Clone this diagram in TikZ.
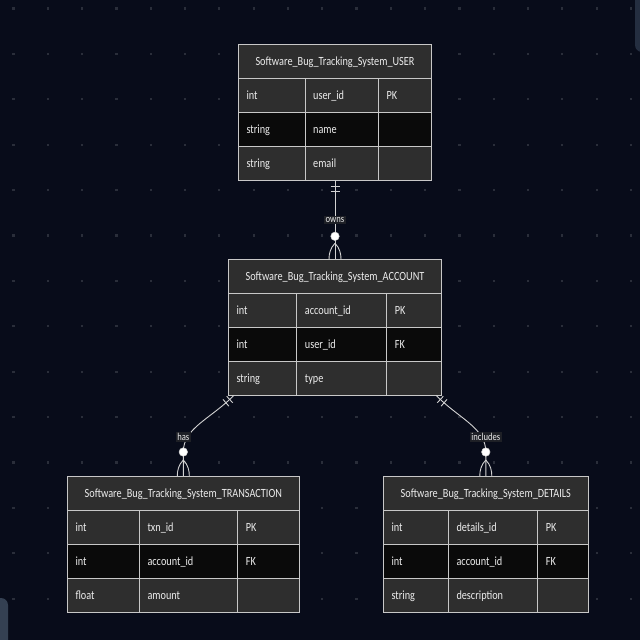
\documentclass[tikz,border=0pt]{standalone}
\usepackage{fontspec}
\setmainfont{Carlito}[FakeStretch=0.82]
\usetikzlibrary{calc,decorations.markings}
\definecolor{bgc}{RGB}{8,12,26}
\definecolor{dotc}{RGB}{42,46,58}
\definecolor{cellA}{RGB}{46,46,46}
\definecolor{cellB}{RGB}{10,10,10}
\definecolor{linec}{RGB}{200,200,200}
\definecolor{txtc}{RGB}{236,236,236}
\definecolor{lblbg}{RGB}{30,32,38}
\definecolor{relc}{RGB}{210,210,210}
\definecolor{artA}{RGB}{52,64,82}
\definecolor{artB}{RGB}{36,46,64}
\tikzset{
  tabline/.style={draw=linec, line width=1pt},
  celltxt/.style={text=txtc, font=\fontsize{12.5}{14}\selectfont, anchor=base west, inner sep=0pt},
  headtxt/.style={text=txtc, font=\fontsize{12.5}{14}\selectfont, anchor=base, inner sep=0pt},
  tabbox/.style={rectangle, inner sep=0pt, outer sep=0pt},
  rel/.style={draw=relc, line width=0.9pt},
  lbl/.style={fill=lblbg, text=txtc, font=\fontsize{10.5}{12}\selectfont, inner sep=1.5pt},
  zcirc/.style={circle, fill=white, draw=relc, minimum size=8.5pt, inner sep=0pt, line width=0.5pt},
  onetick/.style={postaction={decorate, decoration={markings,
      mark=at position 6pt with {\draw[rel] (0,-4.5pt) -- (0,4.5pt);},
      mark=at position 11pt with {\draw[rel] (0,-4.5pt) -- (0,4.5pt);}}}}
}
\newcommand\ertab[7]{%
  \gdef\tL{#2}\gdef\tT{#3}\gdef\tR{#4}\gdef\tA{#5}\gdef\tB{#6}%
  \node[tabbox, anchor=north west, minimum width={#4-#2}, minimum height=136] (#1) at (#2,#3) {};
  \fill[cellA] (#2,#3) rectangle (#4,#3+34);
  \node[headtxt] (#1-h) at ({(#2+#4)/2},#3+21.5) {#7};
}
\newcommand\errow[6]{%
  \pgfmathsetmacro\rT{\tT+34*#2}%
  \fill[#3] (\tL,\rT) rectangle (\tR,\rT+34);
  \node[celltxt] (#1-#2a) at (\tL+8,\rT+21.5) {#4};
  \node[celltxt] (#1-#2b) at (\tA+8,\rT+21.5) {#5};
  \node[celltxt] (#1-#2c) at (\tB+8,\rT+21.5) {#6};
}
\newcommand\ergrid{%
  \draw[tabline] (\tL,\tT) rectangle (\tR,\tT+136);
  \foreach \k in {1,2,3} {\draw[tabline] (\tL,\tT+34*\k) -- (\tR,\tT+34*\k);}
  \draw[tabline] (\tA,\tT+34) -- (\tA,\tT+136);
  \draw[tabline] (\tB,\tT+34) -- (\tB,\tT+136);
}
\newcommand\manyfoot[1]{%
  \draw[rel] ($(#1)+(0,-16)$) .. controls ($(#1)+(-5,-11)$) and ($(#1)+(-6,-5)$) .. ($(#1)+(-6,0)$);
  \draw[rel] ($(#1)+(0,-16)$) .. controls ($(#1)+(5,-11)$) and ($(#1)+(6,-5)$) .. ($(#1)+(6,0)$);
}
\begin{document}
\begin{tikzpicture}[x=1pt,y=-1pt]
\useasboundingbox (0,0) rectangle (640,640);
\begin{scope}
\clip (0,0) rectangle (640,640);
\fill[bgc] (0,0) rectangle (640,640);
\foreach \i in {0,...,18} {\foreach \j in {0,...,14} {
  \fill[dotc] (13.5+34.3*\i-1.1, 8.5+45.4*\j-1.1) rectangle ++(2.2,2.2);}}
\fill[artA, rounded corners=7pt] (-10,598) rectangle (8,660);
\fill[artB, rounded corners=7pt] (635,-20) rectangle (660,52);
\end{scope}

% USER
\ertab{user}{238.3}{44}{431.7}{305}{378.3}{Software\_Bug\_Tracking\_System\_USER}
\errow{user}{1}{cellA}{int}{user\_id}{PK}
\errow{user}{2}{cellB}{string}{name}{}
\errow{user}{3}{cellA}{string}{email}{}
\ergrid
% ACCOUNT
\ertab{account}{228.3}{259.3}{441.7}{296.7}{386.7}{Software\_Bug\_Tracking\_System\_ACCOUNT}
\errow{account}{1}{cellA}{int}{account\_id}{PK}
\errow{account}{2}{cellB}{int}{user\_id}{FK}
\errow{account}{3}{cellA}{string}{type}{}
\ergrid
% TRANSACTION
\ertab{tx}{67.3}{476}{299.3}{139.3}{237.7}{Software\_Bug\_Tracking\_System\_TRANSACTION}
\errow{tx}{1}{cellA}{int}{txn\_id}{PK}
\errow{tx}{2}{cellB}{int}{account\_id}{FK}
\errow{tx}{3}{cellA}{float}{amount}{}
\ergrid
% DETAILS
\ertab{det}{383.3}{476}{588.3}{448.3}{537.7}{Software\_Bug\_Tracking\_System\_DETAILS}
\errow{det}{1}{cellA}{int}{details\_id}{PK}
\errow{det}{2}{cellB}{int}{account\_id}{FK}
\errow{det}{3}{cellA}{string}{description}{}
\ergrid

% relationships
\coordinate (acc-l) at ($(account.south)+(-101,0)$);
\coordinate (acc-r) at ($(account.south)+(101,0)$);
\draw[rel, onetick] (user.south) -- (account.north);
\draw[rel, onetick] (acc-l) .. controls ($(acc-l)+(-24,24)$) and ($(tx.north)+(0,-48)$) .. ($(tx.north)+(0,-24)$) -- (tx.north);
\draw[rel, onetick] (acc-r) .. controls ($(acc-r)+(24,24)$) and ($(det.north)+(0,-48)$) .. ($(det.north)+(0,-24)$) -- (det.north);

\manyfoot{account.north}
\manyfoot{tx.north}
\manyfoot{det.north}

\node[lbl] (l-owns) at ($(user.south)!0.5!(account.north)$) {owns};
\node[lbl] (l-has) at ($(tx.north)+(0,-39)$) {has};
\node[lbl] (l-inc) at ($(det.north)+(0,-39)$) {includes};

\node[zcirc] (z-owns) at ($(account.north)+(0,-23)$) {};
\node[zcirc] (z-has) at ($(tx.north)+(0,-24)$) {};
\node[zcirc] (z-inc) at ($(det.north)+(0,-24)$) {};
\end{tikzpicture}
\end{document}
